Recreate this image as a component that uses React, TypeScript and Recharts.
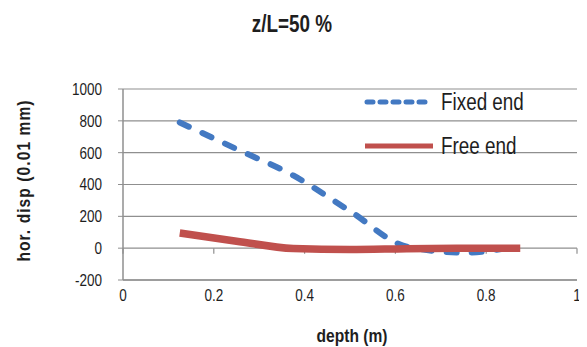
import React from 'react';
import { LineChart, Line, XAxis, YAxis, CartesianGrid, Legend, Label, ReferenceLine } from 'recharts';

const depth = [0.125, 0.25, 0.375, 0.5, 0.625, 0.75, 0.875];
const fixedEnd = [790, 623, 457, 233, 10, -28, 15];
const freeEnd = [95, 44, -2, -8, -3, 0, 0];
const xTicks = [0, 0.2, 0.4, 0.6, 0.8, 1];
const yTicks = [-200, 0, 200, 400, 600, 800, 1000];
const seriesNames = ['Fixed end', 'Free end'];
const titleText = 'z/L=50 %';
const xTitle = 'depth (m)';
const yTitle = 'hor. disp (0.01 mm)';

const data = depth.map((d, i) => ({ depth: d, fixed: fixedEnd[i], free: freeEnd[i] }));

const FONT = "'Liberation Sans', Arial, sans-serif";
const NARROW = 0.82;
const BLUE = '#4379c2';
const RED = '#c0504d';
const GRID = '#8f8f8f';
const TEXT = '#1e1e1e';

const XTick = (props: any) => {
  const { x, y, payload } = props;
  return (
    <g transform={`translate(${x},${y})`}>
      <text transform={`scale(${NARROW},1)`} textAnchor="middle" dy="0.71em" fontFamily={FONT} fontSize={16.5} fill={TEXT}>
        {payload.value}
      </text>
    </g>
  );
};

const YTick = (props: any) => {
  const { x, y, payload } = props;
  return (
    <g transform={`translate(${x},${y})`}>
      <text transform={`scale(${NARROW},1)`} textAnchor="end" dy="0.355em" fontFamily={FONT} fontSize={16.5} fill={TEXT}>
        {payload.value}
      </text>
    </g>
  );
};

const renderLegend = () => (
  <div style={{ fontFamily: FONT, fontSize: 23, color: TEXT }}>
    {[0, 1].map((i) => (
      <div key={i} style={{ display: 'flex', alignItems: 'center', height: 44 }}>
        <svg width={76} height={12} style={{ display: 'block' }}>
          {i === 0 ? (
            <line x1={10} y1={6} x2={70} y2={6} stroke={BLUE} strokeWidth={5} strokeDasharray="6 7" strokeLinecap="round" />
          ) : (
            <line x1={8} y1={6} x2={78} y2={6} stroke={RED} strokeWidth={5} />
          )}
        </svg>
        <span
          style={{
            marginLeft: 8,
            display: 'inline-block',
            whiteSpace: 'nowrap',
            transform: `scaleX(${NARROW})`,
            transformOrigin: 'left center',
          }}
        >
          {seriesNames[i]}
        </span>
      </div>
    ))}
  </div>
);

export default function App() {
  return (
    <div style={{ position: 'relative', width: 587, height: 347 }}>
      <div
        style={{
          position: 'absolute',
          left: 0,
          width: 568,
          top: 5,
          textAlign: 'center',
          zIndex: 2,
        }}
      >
        <span
          style={{
            display: 'inline-block',
            fontFamily: FONT,
            fontWeight: 'bold',
            fontSize: 23,
            lineHeight: '23px',
            color: TEXT,
            transform: `scaleX(${NARROW})`,
            whiteSpace: 'nowrap',
          }}
        >
          {titleText}
        </span>
      </div>
      <LineChart width={587} height={347} data={data} margin={{ top: 81, right: 18, bottom: 45, left: 0 }}>
        <CartesianGrid horizontal vertical={false} stroke={GRID} strokeWidth={1.2} />
        <XAxis
          dataKey="depth"
          type="number"
          domain={[0, 1]}
          ticks={xTicks}
          tickLine={false}
          tickSize={0}
          tickMargin={9}
          height={30}
          axisLine={{ stroke: GRID, strokeWidth: 1.5 }}
          tick={<XTick />}
        >
          <Label
            content={(props: any) => {
              const vb = props.viewBox || {};
              const cx = vb.x + vb.width / 2 + 2;
              const cy = 334;
              return (
                <g transform={`translate(${cx},${cy})`}>
                  <text
                    transform={`scale(${NARROW},1)`}
                    textAnchor="middle"
                    fontFamily={FONT}
                    fontWeight="bold"
                    fontSize={19}
                    fill={TEXT}
                  >
                    {xTitle}
                  </text>
                </g>
              );
            }}
          />
        </XAxis>
        <YAxis
          type="number"
          domain={[-200, 1000]}
          ticks={yTicks}
          width={115}
          tickSize={5}
          tickMargin={16}
          tickLine={{ stroke: GRID }}
          axisLine={{ stroke: GRID, strokeWidth: 1.5 }}
          tick={<YTick />}
        >
          <Label
            content={(props: any) => {
              const vb = props.viewBox || {};
              const cx = 15;
              const cy = vb.y + vb.height / 2 - 4;
              return (
                <g transform={`translate(${cx},${cy}) rotate(-90)`}>
                  <text
                    transform={`scale(${NARROW},1)`}
                    textAnchor="middle"
                    dominantBaseline="central"
                    fontFamily={FONT}
                    fontWeight="bold"
                    fontSize={19}
                    letterSpacing={1.3}
                    fill={TEXT}
                  >
                    {yTitle}
                  </text>
                </g>
              );
            }}
          />
        </YAxis>
        {xTicks.map((t) => (
          <ReferenceLine
            key={t}
            segment={[
              { x: t, y: 0 },
              { x: t, y: -35 },
            ]}
            stroke={GRID}
            strokeWidth={1.2}
          />
        ))}
        <Legend
          layout="horizontal"
          verticalAlign="middle"
          align="center"
          content={renderLegend}
          wrapperStyle={{ left: 349, top: 72, width: 200, height: 88 }}
        />
        <Line
          type="monotone"
          dataKey="fixed"
          name={seriesNames[0]}
          stroke={BLUE}
          strokeWidth={6}
          strokeDasharray="10 15"
          strokeLinecap="round"
          dot={false}
          isAnimationActive={false}
        />
        <Line
          type="monotone"
          dataKey="free"
          name={seriesNames[1]}
          stroke={RED}
          strokeWidth={7.5}
          dot={false}
          isAnimationActive={false}
        />
      </LineChart>
    </div>
  );
}
